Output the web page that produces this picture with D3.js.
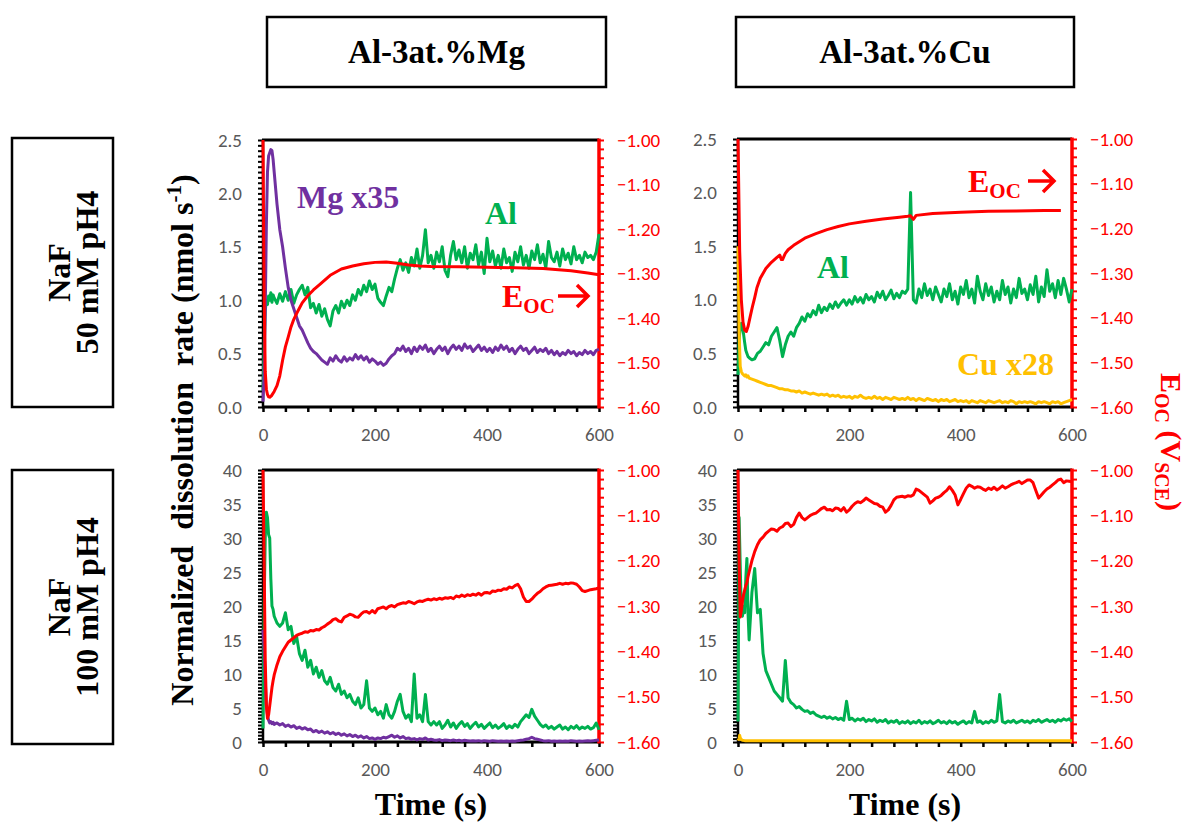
<!DOCTYPE html>
<html>
<head>
<meta charset="utf-8">
<script src="https://cdn.jsdelivr.net/npm/d3@7"></script>
<style>
  body { margin: 0; background: #fff; }
  svg { display: block; }
</style>
</head>
<body>
<svg id="chart" width="1189" height="825"></svg>
<script>
// shared sampling grid (s) for the dissolution-rate traces
const T = [0, 2, 4, 6, 8, 10, 12, 14, 16, 18, 20,
  25, 30, 35, 40, 45, 50, 55, 60, 65, 70,
  75, 80, 85, 90, 95, 100, 105, 110, 115, 120,
  125, 130, 135, 140, 145, 150, 155, 160, 165, 170,
  175, 180, 185, 190, 195, 200, 205, 210, 215, 220,
  225, 230, 235, 240, 245, 250, 255, 260, 265, 270,
  275, 280, 285, 290, 295, 300, 305, 310, 315, 320,
  325, 330, 335, 340, 345, 350, 355, 360, 365, 370,
  375, 380, 385, 390, 395, 400, 405, 410, 415, 420,
  425, 430, 435, 440, 445, 450, 455, 460, 465, 470,
  475, 480, 485, 490, 495, 500, 505, 510, 515, 520,
  525, 530, 535, 540, 545, 550, 555, 560, 565, 570,
  575, 580, 585, 590, 595, 600];

// --- Al-3at.%Mg, 50 mM NaF ---
const alMg50 = [0.15, 0.55, 0.9, 1.0, 0.96, 1.04, 1.0, 1.07, 0.98, 1.05, 1.02,
  0.97, 1.06, 0.99, 1.08, 1.0, 1.1, 0.97, 1.05, 1.1, 1.14,
  1.05, 1.12, 0.93, 0.97, 0.88, 0.96, 0.85, 0.92, 0.82, 0.76,
  0.9, 0.95, 0.88, 0.99, 0.93, 1.0, 0.95, 1.05, 1.0, 1.1,
  1.05, 1.14, 1.08, 1.18, 1.1, 1.15, 1.02, 0.98, 0.95, 1.04,
  1.12, 1.08, 1.2, 1.3, 1.38, 1.28, 1.35, 1.26, 1.4, 1.32,
  1.48, 1.3, 1.42, 1.66, 1.35, 1.42, 1.3, 1.45, 1.36, 1.5,
  1.28, 1.22, 1.42, 1.55, 1.38, 1.47, 1.35, 1.5, 1.3, 1.44,
  1.38, 1.52, 1.33, 1.45, 1.25, 1.58, 1.36, 1.46, 1.32, 1.42,
  1.3, 1.48, 1.35, 1.4, 1.27, 1.45, 1.36, 1.5, 1.33, 1.42,
  1.3, 1.46, 1.38, 1.52, 1.35, 1.43, 1.3, 1.55, 1.4, 1.36,
  1.45, 1.32, 1.48, 1.38, 1.44, 1.34, 1.5, 1.38, 1.42, 1.35,
  1.45, 1.4, 1.42, 1.38, 1.45, 1.62];
const mg50 = [0.05, 0.3, 0.9, 1.7, 2.2, 2.35, 2.38, 2.41, 2.4, 2.32, 2.2,
  1.9, 1.66, 1.5, 1.3, 1.12, 1.0, 0.92, 0.84, 0.76, 0.72,
  0.66, 0.6, 0.55, 0.52, 0.5, 0.47, 0.44, 0.42, 0.4, 0.46,
  0.43, 0.48, 0.44, 0.42, 0.47, 0.43, 0.46, 0.44, 0.49, 0.45,
  0.48, 0.44, 0.47, 0.42, 0.45, 0.43, 0.4, 0.42, 0.39, 0.41,
  0.45, 0.48, 0.5, 0.55, 0.53, 0.57, 0.52, 0.55, 0.5, 0.56,
  0.52, 0.57, 0.54, 0.58, 0.52, 0.55, 0.5, 0.54, 0.57, 0.53,
  0.56, 0.5, 0.55, 0.58, 0.54, 0.57, 0.53, 0.59, 0.55, 0.57,
  0.52, 0.55, 0.58, 0.53, 0.56, 0.52, 0.55, 0.51, 0.56, 0.53,
  0.58, 0.54, 0.57, 0.52, 0.55, 0.5, 0.54, 0.57, 0.53, 0.55,
  0.5, 0.53, 0.56, 0.51, 0.54, 0.52, 0.55, 0.5, 0.53, 0.49,
  0.52, 0.48, 0.51, 0.49, 0.53, 0.5, 0.52, 0.48, 0.51, 0.49,
  0.53, 0.5, 0.52, 0.49, 0.53, 0.54];
const tEMg50 = [0, 2, 4, 6, 8, 10, 12, 15, 20, 25, 30, 35, 40, 45, 50, 55, 60, 70, 80, 90,
  100, 120, 140, 160, 180, 200, 220, 240, 260, 280, 300, 350, 400, 450, 500, 550, 580, 600];
const eMg50 = [-1.0, -1.35, -1.52, -1.56, -1.572, -1.577, -1.578, -1.575, -1.565, -1.552,
  -1.53, -1.495, -1.465, -1.443, -1.42, -1.403, -1.39, -1.366, -1.35, -1.337,
  -1.326, -1.304, -1.29, -1.283, -1.278, -1.275, -1.274, -1.277, -1.281, -1.283,
  -1.284, -1.285, -1.286, -1.287, -1.289, -1.294, -1.299, -1.303];

// --- Al-3at.%Cu, 50 mM NaF ---
const alCu50 = [0.3, 0.62, 0.75, 0.78, 0.74, 0.68, 0.6, 0.53, 0.5, 0.47, 0.46,
  0.44, 0.45, 0.5, 0.52, 0.56, 0.6, 0.58, 0.66, 0.7, 0.74,
  0.62, 0.47, 0.58, 0.66, 0.7, 0.66, 0.74, 0.78, 0.84, 0.8,
  0.87, 0.84, 0.9, 0.86, 0.95, 0.88, 0.93, 0.9, 0.96, 0.92,
  0.98, 0.93, 0.97, 1.0, 0.95, 1.0, 0.96, 1.03, 0.98, 1.02,
  0.97, 1.05, 1.0, 1.03, 0.98, 1.07, 1.02, 1.08, 1.0, 1.04,
  1.09, 1.01, 1.06, 1.02, 1.08, 1.06, 1.1, 2.0, 1.0, 0.97,
  1.1, 1.02, 1.15, 1.04, 1.1, 1.0, 1.12, 1.05, 0.98, 1.1,
  1.03, 1.15, 1.0, 1.08, 0.96, 1.12, 1.05, 1.18, 1.02, 1.1,
  0.97, 1.22, 1.08, 1.0, 1.15, 1.04, 1.12, 0.98, 1.08, 1.0,
  1.18, 1.05, 1.12, 0.97, 1.1, 1.02, 1.2, 1.06, 1.1, 1.0,
  1.14, 1.05, 1.22, 0.98, 1.12, 1.03, 1.28, 1.08, 1.15, 1.02,
  1.18, 1.05, 1.2, 1.1, 0.98, 1.1];
const cu50 = [1.5, 0.7, 0.38, 0.33, 0.31, 0.3, 0.29, 0.3, 0.28, 0.29, 0.27,
  0.26, 0.25, 0.24, 0.23, 0.22, 0.21, 0.2, 0.2, 0.19, 0.18,
  0.17, 0.17, 0.16, 0.16, 0.15, 0.15, 0.14, 0.15, 0.13, 0.14,
  0.13, 0.12, 0.13, 0.12, 0.11, 0.12, 0.11, 0.12, 0.1, 0.11,
  0.1, 0.11, 0.09, 0.1, 0.09, 0.1, 0.08, 0.1, 0.09, 0.11,
  0.09, 0.08, 0.09, 0.08, 0.1, 0.08, 0.09, 0.07, 0.09, 0.08,
  0.07, 0.09, 0.08, 0.07, 0.08, 0.07, 0.09, 0.07, 0.08, 0.06,
  0.08, 0.07, 0.06, 0.08, 0.07, 0.06, 0.07, 0.05, 0.07, 0.06,
  0.07, 0.05, 0.06, 0.07, 0.05, 0.06, 0.05, 0.06, 0.04, 0.06,
  0.05, 0.04, 0.06, 0.05, 0.04, 0.06, 0.05, 0.04, 0.05, 0.06,
  0.04, 0.05, 0.04, 0.06, 0.05, 0.03, 0.05, 0.04, 0.05, 0.04,
  0.05, 0.04, 0.03, 0.05, 0.04, 0.05, 0.04, 0.03, 0.05, 0.04,
  0.05, 0.03, 0.04, 0.05, 0.06, 0.07];
const tECu50 = [0, 3, 6, 9, 12, 15, 18, 22, 26, 30, 34, 40, 50, 60, 70, 75, 78, 80, 85, 90,
  100, 120, 140, 160, 180, 200, 230, 260, 290, 305, 310, 315, 320, 350, 400, 450, 500, 550, 580];
const eCu50 = [-1.0, -1.25, -1.36, -1.41, -1.428, -1.431, -1.42, -1.397, -1.375, -1.355,
  -1.333, -1.312, -1.29, -1.276, -1.265, -1.26, -1.27, -1.27, -1.256, -1.248,
  -1.238, -1.222, -1.212, -1.203, -1.196, -1.19, -1.184, -1.179, -1.175, -1.173,
  -1.172, -1.18, -1.171, -1.167, -1.164, -1.162, -1.161, -1.16, -1.16];

// --- Al-3at.%Mg, 100 mM NaF ---
const alMg100 = [2, 20, 30, 33.8, 33, 30.5, 30, 24, 20, 19.5, 18.5,
  17.5, 17, 17.5, 19, 16.5, 17, 14.5, 15.5, 13, 12,
  13.5, 11, 12, 10, 11, 9.5, 10.5, 9, 8.5, 9.5,
  8, 7.5, 8.5, 7, 7.5, 6.5, 7, 6, 5.5, 6.5,
  5, 5.5, 9, 5, 4.5, 5, 4, 4.5, 3.5, 5.5,
  4, 3.5, 4.5, 6, 7, 4.5, 3.5, 4, 3, 10,
  3.5, 4, 3, 7, 3, 2.5, 3, 2.5, 3, 2,
  2.5, 3.2, 2.2, 2.8, 2, 2.6, 3, 2.3, 2.7, 2,
  2.5, 2.9, 2.2, 2.6, 2, 2.4, 2.8, 2.1, 2.5, 2,
  2.3, 2.7, 2, 2.4, 2.1, 2.6, 2.2, 3, 3.5, 4,
  3.6, 4.8, 3.8, 3.2, 2.6, 2.2, 2.5, 2, 2.3, 1.9,
  2.2, 2.5, 1.9, 2.2, 1.8, 2.3, 2, 2.4, 1.9, 2.2,
  2, 2.3, 1.9, 2.1, 2.8, 1.8];
const mg100 = [16.5, 14, 9, 5.5, 4, 3.2, 2.8, 3, 2.7, 2.9, 2.6,
  2.8, 2.5, 2.7, 2.3, 2.5, 2.2, 2.4, 2, 2.2, 1.9,
  2.1, 1.8, 1.9, 1.5, 1.7, 1.4, 1.6, 1.3, 1.5, 1.2,
  1.4, 1.1, 1.3, 1, 1.2, 0.9, 1.1, 0.8, 1, 0.7,
  0.9, 0.6, 0.8, 0.5, 0.6, 0.4, 0.6, 0.5, 0.7, 0.6,
  0.8, 1, 0.7, 0.9, 0.6, 0.8, 0.5, 0.6, 0.4, 0.5,
  0.3, 0.5, 0.4, 0.6, 0.3, 0.4, 0.3, 0.25, 0.35, 0.2,
  0.3, 0.25, 0.2, 0.3, 0.2, 0.25, 0.15, 0.25, 0.2, 0.15,
  0.2, 0.15, 0.2, 0.1, 0.2, 0.15, 0.1, 0.2, 0.15, 0.1,
  0.15, 0.1, 0.15, 0.1, 0.15, 0.1, 0.2, 0.25, 0.3, 0.4,
  0.5, 0.7, 0.5, 0.4, 0.3, 0.2, 0.15, 0.2, 0.1, 0.15,
  0.1, 0.15, 0.1, 0.15, 0.1, 0.2, 0.15, 0.1, 0.15, 0.1,
  0.15, 0.2, 0.15, 0.2, 0.25, 0.3];
const eMg100 = [-1.0, -1.2, -1.42, -1.52, -1.548, -1.54, -1.52, -1.5, -1.48, -1.465, -1.452,
  -1.43, -1.412, -1.4, -1.39, -1.38, -1.375, -1.37, -1.365, -1.362, -1.36,
  -1.357, -1.358, -1.354, -1.355, -1.352, -1.353, -1.348, -1.345, -1.34, -1.336,
  -1.33, -1.328, -1.333, -1.335, -1.325, -1.322, -1.318, -1.32, -1.324, -1.325,
  -1.318, -1.313, -1.312, -1.316, -1.31, -1.315, -1.306, -1.304, -1.302, -1.306,
  -1.301, -1.299, -1.302, -1.297, -1.295, -1.293, -1.294, -1.29, -1.292, -1.295,
  -1.291, -1.289, -1.29, -1.287, -1.285, -1.287, -1.284, -1.286, -1.283, -1.285,
  -1.282, -1.283, -1.281, -1.284, -1.278, -1.28, -1.276, -1.279, -1.275, -1.277,
  -1.274, -1.276, -1.272, -1.276, -1.271, -1.27, -1.272, -1.267, -1.268, -1.265,
  -1.266, -1.262, -1.263, -1.258, -1.26, -1.255, -1.252, -1.262, -1.28, -1.29,
  -1.29, -1.285, -1.278, -1.272, -1.268, -1.262, -1.258, -1.255, -1.254, -1.253,
  -1.252, -1.25, -1.252, -1.25, -1.251, -1.249, -1.25, -1.252, -1.258, -1.266,
  -1.268, -1.266, -1.264, -1.263, -1.262, -1.26];

// --- Al-3at.%Cu, 100 mM NaF ---
const alCu100 = [3, 33, 26, 19, 18.5, 20, 19, 24, 27, 19, 15,
  22, 25.5, 19, 19.5, 13, 10.5, 9.5, 8.5, 7.5, 7,
  6.5, 6, 12, 6.5, 5.8, 5.5, 5, 5.2, 4.8, 4.5,
  4.6, 4.2, 4.4, 4, 3.8, 3.6, 3.8, 3.5, 3.7, 3.4,
  3.6, 3.3, 3.5, 3.2, 6, 3.3, 3.5, 3.1, 3.4, 3.2,
  3.5, 3, 3.3, 3.1, 3.4, 2.9, 3.2, 3, 3.3, 2.8,
  3.1, 2.9, 3.2, 2.7, 3, 2.8, 3.1, 2.7, 3, 2.8,
  3.2, 2.7, 3, 2.8, 3.1, 2.7, 2.9, 3.2, 2.8, 3,
  2.7, 3.1, 2.8, 3, 2.6, 2.9, 3.1, 2.7, 3, 2.8,
  4.5, 2.9, 3.1, 2.7, 3, 2.8, 3.2, 2.9, 3.1, 7,
  3, 2.8, 3.1, 2.9, 3.2, 2.8, 3, 3.2, 2.9, 3.1,
  2.8, 3.2, 3, 3.3, 2.9, 3.1, 3.3, 3, 3.2, 2.9,
  3.3, 3.1, 3.4, 3.2, 3.4, 3];
const tCu100 = [0, 2, 3, 4, 6, 8, 12, 20, 40, 100, 200, 300, 400, 500, 600];
const cu100 = [0.2, 0.5, 1.0, 0.6, 0.35, 0.25, 0.2, 0.2, 0.2, 0.2, 0.2, 0.2, 0.2, 0.2, 0.2];
const eCu100 = [-1.0, -1.2, -1.324, -1.31, -1.29, -1.275, -1.265, -1.255, -1.249, -1.235, -1.225,
  -1.2, -1.18, -1.165, -1.154, -1.148, -1.14, -1.135, -1.13, -1.131, -1.135,
  -1.128, -1.125, -1.118, -1.117, -1.125, -1.12, -1.105, -1.095, -1.105, -1.11,
  -1.105, -1.1, -1.097, -1.095, -1.09, -1.085, -1.082, -1.088, -1.087, -1.09,
  -1.084, -1.085, -1.09, -1.083, -1.093, -1.088, -1.08, -1.074, -1.07, -1.072,
  -1.068, -1.062, -1.066, -1.07, -1.074, -1.075, -1.08, -1.082, -1.093, -1.088,
  -1.078, -1.066, -1.06, -1.059, -1.058, -1.06, -1.057, -1.058, -1.055, -1.042,
  -1.045, -1.05, -1.055, -1.06, -1.073, -1.068, -1.062, -1.06, -1.056, -1.05,
  -1.045, -1.037, -1.045, -1.055, -1.077, -1.065, -1.052, -1.04, -1.033, -1.036,
  -1.04, -1.037, -1.038, -1.042, -1.045, -1.04, -1.043, -1.038, -1.044, -1.04,
  -1.035, -1.04, -1.037, -1.033, -1.03, -1.028, -1.025, -1.03, -1.026, -1.022,
  -1.022, -1.028, -1.045, -1.062, -1.055, -1.048, -1.042, -1.038, -1.033, -1.028,
  -1.022, -1.02, -1.028, -1.024, -1.025, -1.026];

const GREEN = '#00B050', PURPLE = '#7030A0', RED = '#FF0000', GOLD = '#FFC000', GREY = '#595959';
const SERIF = '"Liberation Serif", "Times New Roman", serif';
const SANS = 'Carlito, Lato, "Open Sans", sans-serif';

const svg = d3.select('#chart');

// panel layout: [left, right, top, bottom]
const panels = [
  { box: [263, 599, 140, 407], yMax: 2.5, yMajor: 0.5, yMinor: 0.05, fmt: d3.format('.1f'),
    left: [[T, alMg50, GREEN], [T, mg50, PURPLE]], eoc: [tEMg50, eMg50] },
  { box: [738, 1072, 139, 407], yMax: 2.5, yMajor: 0.5, yMinor: 0.05, fmt: d3.format('.1f'),
    left: [[T, alCu50, GREEN], [T, cu50, GOLD]], eoc: [tECu50, eCu50] },
  { box: [263, 599, 470, 742], yMax: 40, yMajor: 5, yMinor: 0.5, fmt: d3.format('d'),
    left: [[T, alMg100, GREEN], [T, mg100, PURPLE]], eoc: [T, eMg100] },
  { box: [738, 1072, 470, 742], yMax: 40, yMajor: 5, yMinor: 0.5, fmt: d3.format('d'),
    left: [[T, alCu100, GREEN], [tCu100, cu100, GOLD]], eoc: [T, eCu100] },
];

function styleTicks(g, color, width) {
  g.select('.domain').remove();
  g.selectAll('.tick line').attr('stroke', color).attr('stroke-width', width);
}

function labelTicks(g, color) {
  g.select('.domain').remove();
  g.selectAll('.tick line').remove();
  g.selectAll('.tick text').attr('fill', color).attr('font-family', SANS).attr('font-size', 19);
}

function drawPanel(p) {
  const [x0, x1, y0, y1] = p.box;
  const x = d3.scaleLinear().domain([0, 600]).range([x0, x1]);
  const y = d3.scaleLinear().domain([0, p.yMax]).range([y1, y0]);
  const yE = d3.scaleLinear().domain([-1.6, -1.0]).range([y1, y0]);
  const g = svg.append('g');

  // ticks
  g.append('g').attr('transform', `translate(${x0},0)`)
    .call(d3.axisLeft(y).tickValues(d3.range(0, p.yMax + 1e-6, p.yMinor)).tickSize(5).tickFormat(''))
    .call(s => styleTicks(s, '#000', 2));
  g.append('g').attr('transform', `translate(${x0},0)`)
    .call(d3.axisLeft(y).tickValues(d3.range(0, p.yMax + 1e-6, p.yMajor)).tickSize(0).tickPadding(21).tickFormat(p.fmt))
    .call(s => labelTicks(s, GREY));
  g.append('g').attr('transform', `translate(${x1},0)`)
    .call(d3.axisRight(yE).tickValues(d3.range(-1.6, -0.999, 0.02)).tickSize(5).tickFormat(''))
    .call(s => styleTicks(s, RED, 2));
  g.append('g').attr('transform', `translate(${x1},0)`)
    .call(d3.axisRight(yE).tickValues(d3.range(-1.6, -0.999, 0.1)).tickSize(0).tickPadding(18).tickFormat(d3.format('.2f')))
    .call(s => labelTicks(s, RED));
  g.append('g').attr('transform', `translate(0,${y1})`)
    .call(d3.axisBottom(x).tickValues(d3.range(0, 601, 40)).tickSize(5).tickFormat(''))
    .call(s => styleTicks(s, '#000', 2.5));
  g.append('g').attr('transform', `translate(0,${y1})`)
    .call(d3.axisBottom(x).tickValues([0, 200, 400, 600]).tickSize(0).tickPadding(21).tickFormat(d3.format('d')))
    .call(s => labelTicks(s, GREY));

  // frame
  g.append('line').attr('x1', x0).attr('x2', x0).attr('y1', y0).attr('y2', y1).attr('stroke', '#000').attr('stroke-width', 2.5);
  g.append('line').attr('x1', x0 - 1).attr('x2', x1).attr('y1', y0).attr('y2', y0).attr('stroke', '#000').attr('stroke-width', 3);
  g.append('line').attr('x1', x0 - 1).attr('x2', x1).attr('y1', y1).attr('y2', y1).attr('stroke', '#000').attr('stroke-width', 3);
  g.append('line').attr('x1', x1).attr('x2', x1).attr('y1', y0 - 1.5).attr('y2', y1 + 1.5).attr('stroke', RED).attr('stroke-width', 3.5);

  // traces
  const line = d3.line().x(d => x(d[0])).y(d => y(d[1]));
  p.left.forEach(([ts, vs, color]) => {
    g.append('path').datum(d3.zip(ts, vs)).attr('d', line)
      .attr('fill', 'none').attr('stroke', color).attr('stroke-width', 3).attr('stroke-linejoin', 'round');
  });
  const eLine = d3.line().x(d => x(d[0])).y(d => yE(d[1]));
  g.append('path').datum(d3.zip(p.eoc[0], p.eoc[1])).attr('d', eLine)
    .attr('fill', 'none').attr('stroke', RED).attr('stroke-width', 3).attr('stroke-linejoin', 'round');
}

panels.forEach(drawPanel);

// header boxes
[['Al-3at.%Mg', 267, 339], ['Al-3at.%Cu', 736, 338]].forEach(([txt, bx, bw]) => {
  svg.append('rect').attr('x', bx).attr('y', 17).attr('width', bw).attr('height', 70)
    .attr('fill', 'none').attr('stroke', '#000').attr('stroke-width', 2.5);
  svg.append('text').attr('x', bx + bw / 2).attr('y', 63).attr('text-anchor', 'middle')
    .attr('font-family', SERIF).attr('font-weight', 'bold').attr('font-size', 33).text(txt);
});

// row boxes
[['50 mM pH4', 138, 269], ['100 mM pH4', 470, 274]].forEach(([txt, by, bh]) => {
  svg.append('rect').attr('x', 12).attr('y', by).attr('width', 101).attr('height', bh)
    .attr('fill', 'none').attr('stroke', '#000').attr('stroke-width', 2.5);
  const t = svg.append('g').attr('transform', `translate(70,${by + bh / 2}) rotate(-90)`)
    .attr('font-family', SERIF).attr('font-weight', 'bold').attr('font-size', 32).attr('text-anchor', 'middle');
  t.append('text').attr('y', 0).text('NaF');
  t.append('text').attr('y', 28).text(txt);
});

// left axis title
const yt = svg.append('text').attr('transform', 'translate(193,440) rotate(-90)')
  .attr('text-anchor', 'middle').attr('font-family', SERIF).attr('font-weight', 'bold').attr('font-size', 32);
yt.append('tspan').text('Normalized\u00a0 dissolution\u00a0 rate (nmol s');
yt.append('tspan').attr('font-size', 21).attr('dy', -12).text('-1');
yt.append('tspan').attr('dy', 12).text(')');

// right axis title
const rt = svg.append('text').attr('transform', 'translate(1161,442) rotate(90)')
  .attr('text-anchor', 'middle').attr('font-family', SERIF).attr('font-weight', 'bold')
  .attr('font-size', 30).attr('fill', RED);
rt.append('tspan').text('E');
rt.append('tspan').attr('font-size', 20).attr('dy', 6).text('OC');
rt.append('tspan').attr('dy', -6).text(' (V');
rt.append('tspan').attr('font-size', 20).attr('dy', 6).text('SCE');
rt.append('tspan').attr('dy', -6).text(')');

// x axis titles
[431, 905].forEach(cx => {
  svg.append('text').attr('x', cx).attr('y', 815).attr('text-anchor', 'middle')
    .attr('font-family', SERIF).attr('font-weight', 'bold').attr('font-size', 32).text('Time (s)');
});

// in-plot annotations
function note(x, y, txt, color) {
  svg.append('text').attr('x', x).attr('y', y).attr('fill', color)
    .attr('font-family', SERIF).attr('font-weight', 'bold').attr('font-size', 32).text(txt);
}
function eocNote(x, y, arrowX0, arrowX1) {
  const t = svg.append('text').attr('x', x).attr('y', y).attr('fill', RED)
    .attr('font-family', SERIF).attr('font-weight', 'bold').attr('font-size', 32);
  t.append('tspan').text('E');
  t.append('tspan').attr('font-size', 21).attr('dy', 6).text('OC');
  const ay = y - 11;
  svg.append('path')
    .attr('d', `M${arrowX0},${ay}H${arrowX1}M${arrowX1 - 11},${ay - 11}L${arrowX1},${ay}L${arrowX1 - 11},${ay + 11}`)
    .attr('fill', 'none').attr('stroke', RED).attr('stroke-width', 3.5);
}
note(297, 208, 'Mg x35', PURPLE);
note(485, 224, 'Al', GREEN);
eocNote(502, 307, 558, 588);
note(817, 278, 'Al', GREEN);
note(957, 375, 'Cu x28', GOLD);
eocNote(968, 192, 1028, 1054);
</script>
</body>
</html>
